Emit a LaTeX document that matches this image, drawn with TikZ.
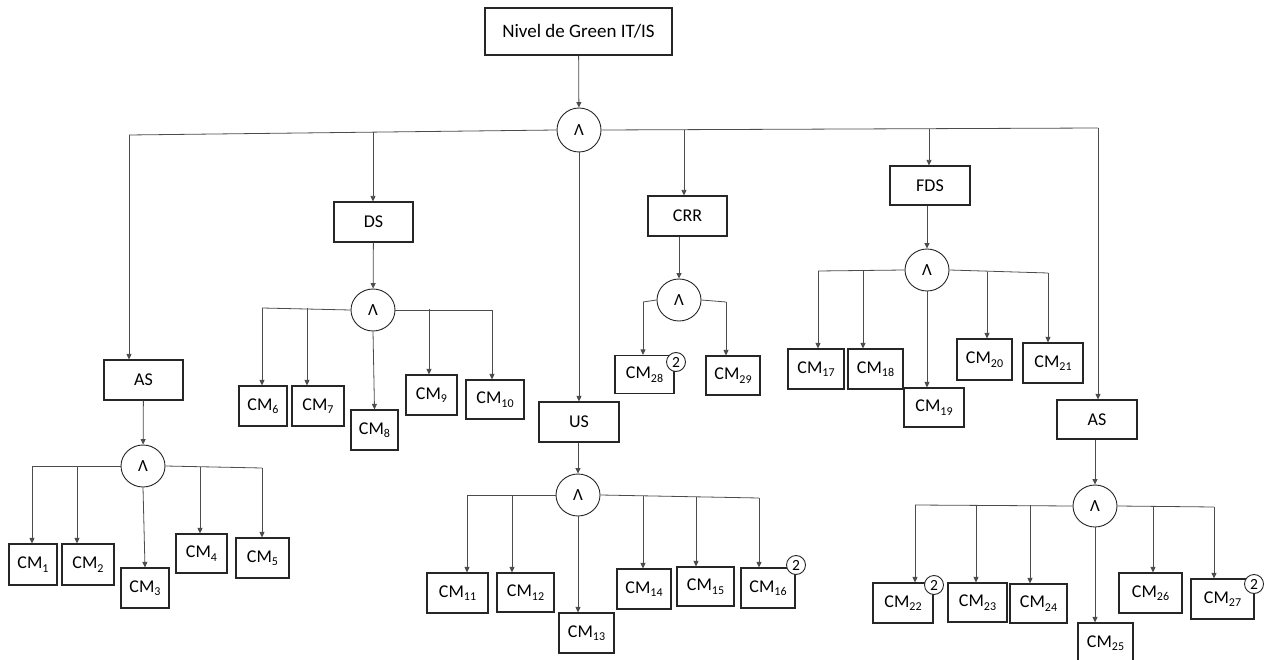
\documentclass[tikz,border=0pt]{standalone}
\usepackage{fontspec}
\setmainfont{Carlito}
\usetikzlibrary{arrows.meta,shapes.geometric}
\newcommand\cmlbl[1]{CM\raisebox{-3.5pt}{\fontsize{12}{12}\selectfont #1}}
\begin{document}
\begin{tikzpicture}[x=1pt,y=-1pt,
  conn/.style={draw=black!70, line width=0.8pt},
  arr/.style={conn, -{Triangle[length=5.5pt,width=5pt]}},
  bx/.style={draw=black!85, line width=1.1pt, inner sep=0pt, minimum height=40pt, font=\fontsize{18}{21}\selectfont},
  andnode/.style={draw=black!85, ellipse, line width=0.9pt, inner sep=0pt, minimum width=44pt, minimum height=42pt, font=\fontsize{17}{17}\selectfont},
  badge/.style={draw=black!85, circle, fill=white, line width=0.9pt, inner sep=0pt, minimum size=19pt, font=\fontsize{15.5}{15.5}\selectfont}
]
\useasboundingbox (0,0) rectangle (1274,660);

% ---- top level
\node[bx, minimum width=187pt, minimum height=47pt, font=\fontsize{19}{22}\selectfont] (title) at (578.5,31.5) {Nivel de Green IT/IS};
\node[andnode, minimum height=44pt] (t0) at (579,130) {Λ};

\node[bx, minimum width=79pt] (as1) at (143.5,380) {AS};
\node[bx, minimum width=79pt] (ds) at (373.5,222) {DS};
\node[bx, minimum width=80pt] (us) at (579,422) {US};
\node[bx, minimum width=79pt] (crr) at (687.5,216) {CRR};
\node[bx, minimum width=80pt, minimum height=39pt] (fds) at (930,185.5) {FDS};
\node[bx, minimum width=80pt, minimum height=39pt] (as2) at (1097,419.5) {AS};

\coordinate (tl) at (129,135);
\coordinate (tds) at (373,132.1);
\coordinate (tcrr) at (684,129.7);
\coordinate (tfds) at (929,128.7);
\coordinate (tr) at (1098,128);

\draw[arr] (title) -- (t0);
\draw[conn] (t0.west) -- (tl);
\draw[conn] (t0.east) -- (tr);
\draw[arr] (tl) -- (tl |- as1.north);
\draw[arr] (tds) -- (tds |- ds.north);
\draw[arr] (t0.south) -- (t0.south |- us.north);
\draw[arr] (tcrr) -- (tcrr |- crr.north);
\draw[arr] (tfds) -- (tfds |- fds.north);
\draw[arr] (tr) -- (tr |- as2.north);

% ---- and nodes of the groups
\node[andnode] (a1) at (143,466) {Λ};
\node[andnode] (a2) at (373,310) {Λ};
\node[andnode] (a3) at (578,495) {Λ};
\node[andnode] (a4) at (679,300) {Λ};
\node[andnode] (a5) at (927,270) {Λ};
\node[andnode] (a6) at (1095,506) {Λ};

\draw[arr] (as1) -- (a1);
\draw[arr] (ds) -- (a2);
\draw[arr] (us.south -| a3.north) -- (a3);
\draw[arr] (crr.south -| a4.north) -- (a4);
\draw[arr] (fds.south -| a5.north) -- (a5);
\draw[arr] (as2.south -| a6.north) -- (a6);

% ---- CM boxes
\node[bx, minimum width=48pt, minimum height=41pt] (c1) at (33,564.5) {\cmlbl{1}};
\node[bx, minimum width=52pt, minimum height=41pt] (c2) at (88,564.5) {\cmlbl{2}};
\node[bx, minimum width=48pt] (c3) at (145,588) {\cmlbl{3}};
\node[bx, minimum width=51pt, minimum height=39pt] (c4) at (201.5,553.5) {\cmlbl{4}};
\node[bx, minimum width=53pt] (c5) at (262.5,558) {\cmlbl{5}};

\node[bx, minimum width=48pt] (c6) at (263,406) {\cmlbl{6}};
\node[bx, minimum width=52pt] (c7) at (318,406) {\cmlbl{7}};
\node[bx, minimum width=47pt] (c8) at (374.5,430) {\cmlbl{8}};
\node[bx, minimum width=51pt] (c9) at (431.5,395) {\cmlbl{9}};
\node[bx, minimum width=58pt, minimum height=39pt] (c10) at (495,399.5) {\cmlbl{10}};

\node[bx, minimum width=61pt] (c11) at (457.5,593) {\cmlbl{11}};
\node[bx, minimum width=57pt, minimum height=39pt] (c12) at (525.5,592.5) {\cmlbl{12}};
\node[bx, minimum width=55pt] (c13) at (586.5,633) {\cmlbl{13}};
\node[bx, minimum width=54pt] (c14) at (644,589) {\cmlbl{14}};
\node[bx, minimum width=57pt, minimum height=39pt] (c15) at (705.5,586.5) {\cmlbl{15}};
\node[bx, minimum width=54pt] (c16) at (768,588) {\cmlbl{16}};

\node[bx, minimum width=56pt] (c17) at (816,369) {\cmlbl{17}};
\node[bx, minimum width=55pt] (c18) at (875.5,369) {\cmlbl{18}};
\node[bx, minimum width=60pt, minimum height=39pt] (c19) at (934,407.5) {\cmlbl{19}};
\node[bx, minimum width=55pt, minimum height=41pt] (c20) at (984.5,359.5) {\cmlbl{20}};
\node[bx, minimum width=60pt] (c21) at (1053,363) {\cmlbl{21}};

\node[bx, minimum width=60pt] (c22) at (903,603) {\cmlbl{22}};
\node[bx, minimum width=59pt, minimum height=39pt] (c23) at (977.5,602.5) {\cmlbl{23}};
\node[bx, minimum width=57pt, minimum height=39pt] (c24) at (1038.5,603.5) {\cmlbl{24}};
\node[bx, minimum width=55pt] (c25) at (1105.5,643) {\cmlbl{25}};
\node[bx, minimum width=63pt] (c26) at (1150.5,593) {\cmlbl{26}};
\node[bx, minimum width=63pt] (c27) at (1222.5,599) {\cmlbl{27}};

\node[bx, minimum width=59pt, minimum height=38pt] (c28) at (644.5,374.5) {\cmlbl{28}};
\node[bx, minimum width=54pt, minimum height=39pt] (c29) at (733,375.5) {\cmlbl{29}};

% ---- badges
\node[badge] (b16) at (796,565) {2};
\node[badge] (b22) at (934,585) {2};
\node[badge] (b27) at (1254,584) {2};
\node[badge] (b28) at (676,362) {2};

% ---- group 1 (AS left)
\coordinate (g1l) at (32,466);
\coordinate (g1a) at (77,466);
\coordinate (g1b) at (200,466.8);
\coordinate (g1r) at (262,468);
\draw[conn] (a1.west) -- (g1l);
\draw[conn] (a1.east) -- (g1r);
\draw[arr] (g1l) -- (g1l |- c1.north);
\draw[arr] (g1a) -- (g1a |- c2.north);
\draw[arr] (a1.south) -- (c3.north);
\draw[arr] (g1b) -- (g1b |- c4.north);
\draw[arr] (g1r) -- (g1r |- c5.north);

% ---- group 2 (DS)
\coordinate (g2l) at (262,308);
\coordinate (g2a) at (307,308);
\coordinate (g2b) at (429,309);
\coordinate (g2r) at (492,310);
\draw[conn] (a2.west) -- (g2l);
\draw[conn] (a2.east) -- (g2r);
\draw[arr] (g2l) -- (g2l |- c6.north);
\draw[arr] (g2a) -- (g2a |- c7.north);
\draw[arr] (a2.south) -- (c8.north);
\draw[arr] (g2b) -- (g2b |- c9.north);
\draw[arr] (g2r) -- (g2r |- c10.north);

% ---- group 3 (US)
\coordinate (g3l) at (467,495);
\coordinate (g3a) at (512,495);
\coordinate (g3b) at (643,496);
\coordinate (g3c) at (696,497);
\coordinate (g3r) at (759,498);
\draw[conn] (a3.west) -- (g3l);
\draw[conn] (a3.east) -- (g3r);
\draw[arr] (g3l) -- (g3l |- c11.north);
\draw[arr] (g3a) -- (g3a |- c12.north);
\draw[arr] (a3.south) -- (a3.south |- c13.north);
\draw[arr] (g3b) -- (g3b |- c14.north);
\draw[arr] (g3c) -- (g3c |- c15.north);
\draw[arr] (g3r) -- (g3r |- c16.north);

% ---- group 4 (CRR)
\coordinate (g4l) at (643,302);
\coordinate (g4r) at (726,302);
\draw[conn] (a4.west) -- (g4l);
\draw[conn] (a4.east) -- (g4r);
\draw[arr] (g4l) -- (g4l |- c28.north);
\draw[arr] (g4r) -- (g4r |- c29.north);

% ---- group 5 (FDS)
\coordinate (g5l) at (818,271);
\coordinate (g5a) at (863,271);
\coordinate (g5b) at (987,272);
\coordinate (g5r) at (1048,273);
\draw[conn] (a5.west) -- (g5l);
\draw[conn] (a5.east) -- (g5r);
\draw[arr] (g5l) -- (g5l |- c17.north);
\draw[arr] (g5a) -- (g5a |- c18.north);
\draw[arr] (a5.south) -- (a5.south |- c19.north);
\draw[arr] (g5b) -- (g5b |- c20.north);
\draw[arr] (g5r) -- (g5r |- c21.north);

% ---- group 6 (AS right)
\coordinate (g6l) at (915,505);
\coordinate (g6a) at (976,505);
\coordinate (g6b) at (1030,505);
\coordinate (g6c) at (1153,506.5);
\coordinate (g6r) at (1214,507);
\draw[conn] (a6.west) -- (g6l);
\draw[conn] (a6.east) -- (g6r);
\draw[arr] (g6l) -- (g6l |- c22.north);
\draw[arr] (g6a) -- (g6a |- c23.north);
\draw[arr] (g6b) -- (g6b |- c24.north);
\draw[arr] (a6.south) -- (a6.south |- c25.north);
\draw[arr] (g6c) -- (g6c |- c26.north);
\draw[arr] (g6r) -- (g6r |- c27.north);
\end{tikzpicture}
\end{document}
